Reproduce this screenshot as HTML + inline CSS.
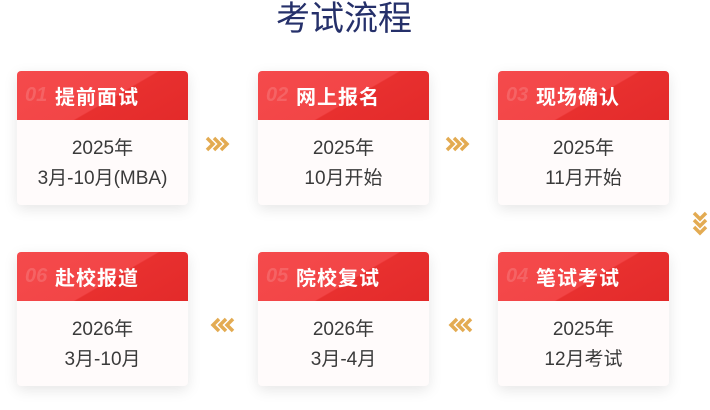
<!DOCTYPE html>
<html><head><meta charset="utf-8"><style>
body{margin:0;width:710px;height:410px;background:#fff;position:relative;overflow:hidden;font-family:"Liberation Sans","Noto Sans CJK SC",sans-serif}
.t{position:absolute;left:-11px;width:710px;top:-3px;text-align:center;font-size:34px;color:#25306a;line-height:44px}
.c{position:absolute;width:171px;height:134px;border-radius:4px;background:#fffbfb;box-shadow:0 4px 14px rgba(0,0,0,.10);overflow:hidden}
.h{height:49px;background:linear-gradient(150deg,#f54a4c 0%,#f24546 55%,#e8302f 56%,#e32a2a 100%);position:relative}
.n{position:absolute;left:8px;top:13px;font-size:20px;font-style:italic;font-weight:bold;color:rgba(255,255,255,.15)}
.l{position:absolute;left:38px;top:10px;font-size:20px;font-weight:bold;color:#fff;letter-spacing:1px}
.b{text-align:center;font-size:19px;color:#3a3a3a;line-height:30px;padding-top:14px}
</style></head><body>
<div class="t">考试流程</div>
<div class="c" style="left:17px;top:71px"><div class="h"><span class="n">01</span><span class="l">提前面试</span></div><div class="b">2025年<br>3月-10月(MBA)</div></div>
<div class="c" style="left:258px;top:71px"><div class="h"><span class="n">02</span><span class="l">网上报名</span></div><div class="b">2025年<br>10月开始</div></div>
<div class="c" style="left:498px;top:71px"><div class="h"><span class="n">03</span><span class="l">现场确认</span></div><div class="b">2025年<br>11月开始</div></div>
<div class="c" style="left:17px;top:252px"><div class="h"><span class="n">06</span><span class="l">赴校报道</span></div><div class="b">2026年<br>3月-10月</div></div>
<div class="c" style="left:258px;top:252px"><div class="h"><span class="n">05</span><span class="l">院校复试</span></div><div class="b">2026年<br>3月-4月</div></div>
<div class="c" style="left:498px;top:252px"><div class="h"><span class="n">04</span><span class="l">笔试考试</span></div><div class="b">2025年<br>12月考试</div></div>
<svg style="position:absolute;left:0;top:0" width="710" height="410">
<g fill="none" stroke="#e3ab52" stroke-width="3.5" stroke-linejoin="miter">
<path d="M207 138l6 6-6 6M214 138l6 6-6 6M221 138l6 6-6 6"/>
<path d="M447 138l6 6-6 6M454 138l6 6-6 6M461 138l6 6-6 6"/>
<path d="M694 213l6 6 6-6M694 220l6 6 6-6M694 227l6 6 6-6"/>
<path d="M233 319l-6 6 6 6M226 319l-6 6 6 6M219 319l-6 6 6 6"/>
<path d="M471 319l-6 6 6 6M464 319l-6 6 6 6M457 319l-6 6 6 6"/>
</g></svg>
</body></html>
